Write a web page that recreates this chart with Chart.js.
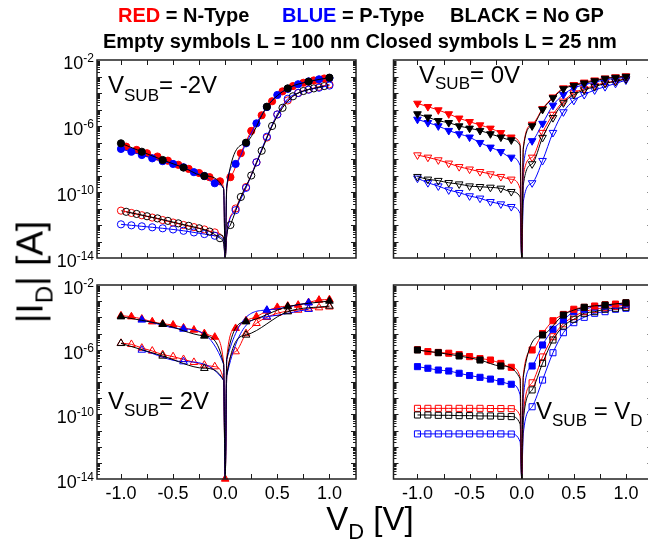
<!DOCTYPE html>
<html>
<head>
<meta charset="utf-8">
<script src="https://cdn.jsdelivr.net/npm/chart.js@4.4.1/dist/chart.umd.min.js"></script>
<style>
  html, body { margin: 0; padding: 0; background: #fff; overflow: hidden; width: 648px; height: 545px; }
  #wrap { position: relative; width: 648px; height: 545px; overflow: hidden; font-family: "Liberation Sans", Arial, sans-serif; }
  #wrap canvas { position: absolute; left: 0; top: 0; }
  .t { position: absolute; white-space: nowrap; color: #000; line-height: 1; }
  .b { font-weight: bold; }
  .sub { position: relative; }
</style>
</head>
<body>
<div id="wrap">
  <canvas id="p1" width="660" height="545"></canvas>
  <canvas id="p2" width="660" height="545"></canvas>
  <canvas id="p3" width="660" height="545"></canvas>
  <canvas id="p4" width="660" height="545"></canvas>

  <div class="t b" style="left:118px;top:5px;font-size:20px"><span style="color:#ff0000">RED</span> = N-Type</div>
  <div class="t b" style="left:282px;top:5px;font-size:20px"><span style="color:#0000ff">BLUE</span> = P-Type</div>
  <div class="t b" style="left:450px;top:5px;font-size:20px">BLACK = No GP</div>
  <div class="t b" style="left:103px;top:31px;font-size:20px">Empty symbols L = 100 nm Closed symbols L = 25 nm</div>

  <div class="t" style="left:108px;top:73px;font-size:24px">V<span class="sub" style="font-size:17px;top:8px">SUB</span>= -2V</div>
  <div class="t" style="left:419px;top:63px;font-size:24px">V<span class="sub" style="font-size:17px;top:6px">SUB</span>= 0V</div>
  <div class="t" style="left:108px;top:389px;font-size:24px">V<span class="sub" style="font-size:17px;top:7px">SUB</span>= 2V</div>
  <div class="t" style="left:536px;top:399px;font-size:24px">V<span class="sub" style="font-size:17px;top:7px">SUB</span> = V<span class="sub" style="font-size:17px;top:7px">D</span></div>

  <div class="t" style="left:30px;top:272px;font-size:37px;transform:translate(-50%,-50%) rotate(-90deg)">|I<span class="sub" style="font-size:24px;top:10px">D</span>| [A]</div>
  <div class="t" style="left:370px;top:518px;font-size:33px;transform:translate(-50%,-50%)">V<span class="sub" style="font-size:22px;top:9px">D</span> [V]</div>
</div>

<script>
// Drain voltage positions (V). The three points around 0 V trace the drop of the curve to the floor.
const VD_A = [-1.0,-0.9,-0.8,-0.7,-0.6,-0.5,-0.4,-0.3,-0.2,-0.1,-0.015,0,0.015,0.1,0.2,0.3,0.4,0.5,0.6,0.7,0.8,0.9,1.0];
const VD_B = [-0.95,-0.85,-0.75,-0.65,-0.55,-0.45,-0.35,-0.25,-0.15,-0.05,-0.015,0,0.015,0.05,0.15,0.25,0.35,0.45,0.55,0.65,0.75,0.85,0.95];
const VD_C = [-1.0,-0.8,-0.6,-0.4,-0.2,-0.015,0,0.015,0.2,0.4,0.6,0.8,1.0];
const VD_D = [-1.0,-0.6,-0.2,-0.015,0,0.015,0.2,0.6,1.0];
const VD_E = [-0.8,-0.4,-0.015,0,0.015,0.4,0.8];

// log10(|I_D| / A). N = N-type ground plane, P = P-type, NOGP = no ground plane; 25 / 100 = gate length in nm.
// V_SUB = -2 V
const SUBM2_N_25    = [-7.25,-7.45,-7.65,-7.85,-8.1,-8.35,-8.6,-8.85,-9.1,-9.35,-9.8,-14,-9.8,-9.1,-7.65,-6.3,-5.35,-4.5,-3.9,-3.58,-3.38,-3.24,-3.12];
const SUBM2_P_25    = [-7.39,-7.56,-7.76,-7.96,-8.13,-8.3,-8.5,-8.8,-9.03,-9.47,-9.8,-14,-9.6,-8.3,-7.05,-5.84,-4.85,-4.12,-3.75,-3.47,-3.3,-3.17,-3.1];
const SUBM2_NOGP_25 = [-7.05,-7.56,-8.06,-8.52,-9.03,-9.8,-14,-9.7,-7.01,-4.83,-3.72,-3.31,-3.07];
const SUBM2_N_100   = [-11.13,-11.27,-11.41,-11.55,-11.7,-11.85,-12.0,-12.13,-12.27,-12.45,-12.8,-14,-12.6,-11.0,-9.7,-8.2,-6.7,-5.3,-4.45,-4.0,-3.78,-3.63,-3.48];
const SUBM2_P_100   = [-11.96,-12.02,-12.08,-12.14,-12.2,-12.27,-12.35,-12.45,-12.55,-12.65,-12.9,-14,-12.6,-11.1,-9.75,-8.2,-6.65,-5.3,-4.35,-4.0,-3.8,-3.68,-3.55];
const SUBM2_NOGP_100= [-11.2,-11.33,-11.47,-11.6,-11.75,-11.9,-12.05,-12.2,-12.4,-12.8,-13.1,-14,-12.6,-12.0,-10.3,-9.0,-7.5,-6.0,-4.9,-4.2,-3.88,-3.72,-3.58];
// V_SUB = 0 V
const SUB0_N_25     = [-4.63,-4.83,-5.03,-5.27,-5.53,-5.74,-5.94,-6.14,-6.41,-6.68,-7.1,-14,-7.3,-5.9,-4.95,-4.25,-3.7,-3.5,-3.35,-3.22,-3.1,-3.03,-2.97];
const SUB0_P_25     = [-5.6,-5.8,-6.0,-6.28,-6.48,-6.68,-7.01,-7.29,-7.56,-7.9,-8.4,-14,-8.5,-6.9,-5.85,-4.75,-4.1,-3.7,-3.5,-3.35,-3.2,-3.12,-3.05];
const SUB0_NOGP_25  = [-5.27,-5.47,-5.68,-5.8,-6.0,-6.14,-6.28,-6.48,-6.68,-6.85,-7.2,-14,-7.4,-6.0,-5.0,-4.3,-3.75,-3.55,-3.4,-3.27,-3.12,-3.06,-3.0];
const SUB0_N_100    = [-7.76,-7.9,-8.06,-8.26,-8.47,-8.62,-8.77,-8.91,-9.07,-9.23,-9.8,-14,-9.0,-7.9,-6.4,-5.3,-4.5,-4.0,-3.75,-3.55,-3.38,-3.28,-3.12];
const SUB0_P_100    = [-9.17,-9.44,-9.64,-9.88,-10.04,-10.24,-10.38,-10.59,-10.73,-10.89,-11.3,-14,-10.6,-9.45,-8.1,-6.4,-5.15,-4.45,-4.1,-3.82,-3.62,-3.42,-3.22];
const SUB0_NOGP_100 = [-9.07,-9.23,-9.31,-9.44,-9.52,-9.64,-9.68,-9.72,-9.78,-9.98,-10.3,-14,-9.6,-8.3,-6.7,-5.5,-4.6,-4.1,-3.82,-3.62,-3.42,-3.3,-3.15];
// V_SUB = 2 V
const SUBP2_N_25    = [-3.9,-3.96,-4.1,-4.27,-4.4,-4.47,-4.65,-4.78,-5.0,-5.22,-6.8,-14,-6.5,-4.68,-4.2,-3.96,-3.6,-3.38,-3.3,-3.24,-3.08,-2.93,-2.9];
const SUBP2_P_25    = [-4.16,-4.72,-6.9,-14,-6.6,-3.55,-3.1];
const SUBP2_NOGP_25 = [-3.96,-4.43,-5.15,-6.9,-14,-6.6,-4.27,-3.34,-2.99];
const SUBP2_N_100   = [-5.6,-5.67,-5.9,-6.08,-6.3,-6.43,-6.6,-6.78,-6.95,-7.05,-7.9,-14,-7.6,-6.12,-5.0,-4.37,-4.0,-3.75,-3.62,-3.55,-3.47,-3.4,-3.35];
const SUBP2_P_100   = [-6.02,-6.74,-7.9,-14,-7.6,-3.96,-3.5];
const SUBP2_NOGP_100= [-5.61,-6.39,-7.15,-7.9,-14,-7.6,-5.09,-3.65,-3.3];
// V_SUB = V_D
const SUBVD_N_25    = [-6.0,-6.12,-6.17,-6.22,-6.3,-6.43,-6.55,-6.64,-6.85,-7.09,-7.7,-14,-7.6,-6.02,-5.0,-4.21,-3.82,-3.5,-3.38,-3.3,-3.22,-3.18,-3.1];
const SUBVD_P_25    = [-7.05,-7.15,-7.26,-7.32,-7.46,-7.6,-7.71,-7.82,-7.98,-8.14,-8.8,-14,-9.0,-7.01,-5.71,-4.74,-4.16,-3.65,-3.5,-3.34,-3.3,-3.24,-3.18];
const SUBVD_NOGP_25 = [-6.02,-6.19,-6.39,-6.64,-7.01,-7.8,-14,-7.7,-5.09,-3.86,-3.38,-3.24,-3.1];
const SUBVD_N_100   = [-9.63,-9.63,-9.63,-9.63,-9.63,-9.63,-9.63,-9.64,-9.64,-9.65,-10.1,-14,-10.0,-8.05,-6.45,-5.2,-4.4,-3.95,-3.65,-3.5,-3.4,-3.32,-3.25];
const SUBVD_P_100   = [-11.21,-11.21,-11.21,-11.21,-11.21,-11.21,-11.21,-11.21,-11.21,-11.22,-11.7,-14,-11.2,-9.53,-7.88,-6.19,-4.95,-4.33,-4.0,-3.75,-3.65,-3.5,-3.44];
const SUBVD_NOGP_100= [-10.04,-10.04,-10.06,-10.06,-10.08,-10.08,-10.1,-10.1,-10.12,-10.14,-10.6,-14,-10.4,-8.49,-6.84,-5.4,-4.54,-4.12,-3.75,-3.65,-3.5,-3.44,-3.38];

// Axis ticks
const X_TICK_LABELS = [-1.0, -0.5, 0.0, 0.5, 1.0];
const Y_TICK_EXPONENTS = [-2, -6, -10, -14];

const COLORS = { red: '#ff0000', blue: '#0000ff', black: '#000000' };
const FONT = '"Liberation Sans", Arial, sans-serif';
const CANVAS_W = 660, CANVAS_H = 545;

// Frame with inward ticks on all four sides, plus tick labels
const framePlugin = {
  id: 'frameTicks',
  afterDraw(chart, args, opts) {
    const { ctx, chartArea: a } = chart;
    const xs = chart.scales.x, ys = chart.scales.y;
    ctx.save();
    ctx.strokeStyle = '#1a1a1a';
    ctx.lineWidth = 1;
    ctx.beginPath();
    for (let i = -4; i <= 4; i++) {
      const px = Math.round(xs.getPixelForValue(i * 0.25)) + 0.5;
      if (px <= a.left + 2 || px >= a.right - 2) continue;
      ctx.moveTo(px, a.bottom); ctx.lineTo(px, a.bottom - 5);
      ctx.moveTo(px, a.top); ctx.lineTo(px, a.top + 5);
    }
    for (let e = -14; e < -2; e++) {
      for (let m = 1; m <= 9; m++) {
        if (m === 1 && e === -14) continue;
        const py = Math.round(ys.getPixelForValue(m * Math.pow(10, e))) + 0.5;
        const len = m === 1 ? 5 : 3;
        ctx.moveTo(a.left, py); ctx.lineTo(a.left + len, py);
        ctx.moveTo(a.right, py); ctx.lineTo(a.right - len, py);
      }
    }
    ctx.stroke();
    ctx.lineWidth = 1.5;
    ctx.strokeStyle = '#222';
    ctx.strokeRect(a.left, a.top, a.right - a.left, a.bottom - a.top);

    ctx.fillStyle = '#000';
    if (opts.yLabels) {
      Y_TICK_EXPONENTS.forEach(e => {
        const py = ys.getPixelForValue(Math.pow(10, e));
        const sup = String(e);
        ctx.font = '12px ' + FONT;
        const ws = ctx.measureText(sup).width;
        ctx.font = '18px ' + FONT;
        const wb = ctx.measureText('10').width;
        const xr = a.left - 3;
        ctx.textAlign = 'left';
        ctx.textBaseline = 'alphabetic';
        ctx.fillText('10', xr - ws - wb, py + 9);
        ctx.font = '12px ' + FONT;
        ctx.fillText(sup, xr - ws, py + 2);
      });
    }
    if (opts.xLabels) {
      ctx.font = '18px ' + FONT;
      ctx.textAlign = 'center';
      ctx.textBaseline = 'alphabetic';
      X_TICK_LABELS.forEach(v => {
        ctx.fillText(v.toFixed(1), xs.getPixelForValue(v), a.bottom + 20);
      });
    }
    ctx.restore();
  }
};

function series(xArr, yArr, color, open) {
  return { xArr, yArr, color, open };
}

function buildDataset(s, marker, markZero) {
  const data = s.xArr.map((x, i) => ({ x, y: Math.pow(10, s.yArr[i]) }));
  const col = COLORS[s.color];
  const radius = s.xArr.map(x => {
    if (Math.abs(x) < 0.03) return (markZero && x === 0) ? marker.r : 0;
    return marker.r;
  });
  return {
    data,
    borderColor: col,
    borderWidth: 1,
    backgroundColor: s.open ? 'rgba(255,255,255,0)' : col,
    pointBackgroundColor: s.open ? 'rgba(255,255,255,0)' : col,
    pointBorderColor: col,
    pointBorderWidth: 1,
    pointStyle: marker.style,
    rotation: marker.rot,
    pointRadius: radius,
    cubicInterpolationMode: 'monotone',
    clip: false,
    fill: false
  };
}

function makePanel(id, area, marker, list, yLabels, xLabels, markZero) {
  const [l, t, r, b] = area;
  const datasets = list.map(s => buildDataset(s, marker, markZero && !s.open && s.color === 'red'));
  new Chart(document.getElementById(id), {
    type: 'line',
    data: { datasets },
    options: {
      responsive: false,
      animation: false,
      devicePixelRatio: 1,
      events: [],
      parsing: false,
      layout: { padding: { left: l, top: t, right: CANVAS_W - r, bottom: CANVAS_H - b } },
      scales: {
        x: { type: 'linear', min: -1.23, max: 1.255, display: false },
        y: { type: 'logarithmic', min: 1e-14, max: 1e-2, display: false }
      },
      plugins: {
        legend: { display: false },
        tooltip: { enabled: false },
        frameTicks: { yLabels, xLabels }
      }
    },
    plugins: [framePlugin]
  });
}

const CIRCLE = { style: 'circle', r: 3.6, rot: 0 };
const TRI_DOWN = { style: 'triangle', r: 4.4, rot: 180 };
const TRI_UP = { style: 'triangle', r: 4.4, rot: 0 };
const SQUARE = { style: 'rect', r: 4.3, rot: 0 };

makePanel('p1', [97, 60, 356, 258], CIRCLE, [
  series(VD_C, SUBM2_NOGP_25, 'black', false),
  series(VD_A, SUBM2_P_25, 'blue', false),
  series(VD_B, SUBM2_N_25, 'red', false),
  series(VD_B, SUBM2_NOGP_100, 'black', true),
  series(VD_A, SUBM2_P_100, 'blue', true),
  series(VD_A, SUBM2_N_100, 'red', true)
], true, false, false);

makePanel('p2', [393.5, 60, 652.5, 258], TRI_DOWN, [
  series(VD_A, SUB0_NOGP_25, 'black', false),
  series(VD_A, SUB0_N_25, 'red', false),
  series(VD_A, SUB0_P_25, 'blue', false),
  series(VD_A, SUB0_NOGP_100, 'black', true),
  series(VD_A, SUB0_N_100, 'red', true),
  series(VD_A, SUB0_P_100, 'blue', true)
], false, false, false);

makePanel('p3', [97, 285, 356, 479], TRI_UP, [
  series(VD_D, SUBP2_NOGP_25, 'black', false),
  series(VD_E, SUBP2_P_25, 'blue', false),
  series(VD_A, SUBP2_N_25, 'red', false),
  series(VD_D, SUBP2_NOGP_100, 'black', true),
  series(VD_E, SUBP2_P_100, 'blue', true),
  series(VD_A, SUBP2_N_100, 'red', true)
], true, true, true);

makePanel('p4', [393.5, 285, 652.5, 479], SQUARE, [
  series(VD_C, SUBVD_NOGP_25, 'black', false),
  series(VD_A, SUBVD_N_25, 'red', false),
  series(VD_A, SUBVD_P_25, 'blue', false),
  series(VD_A, SUBVD_NOGP_100, 'black', true),
  series(VD_A, SUBVD_N_100, 'red', true),
  series(VD_A, SUBVD_P_100, 'blue', true)
], false, true, false);
</script>
</body>
</html>
